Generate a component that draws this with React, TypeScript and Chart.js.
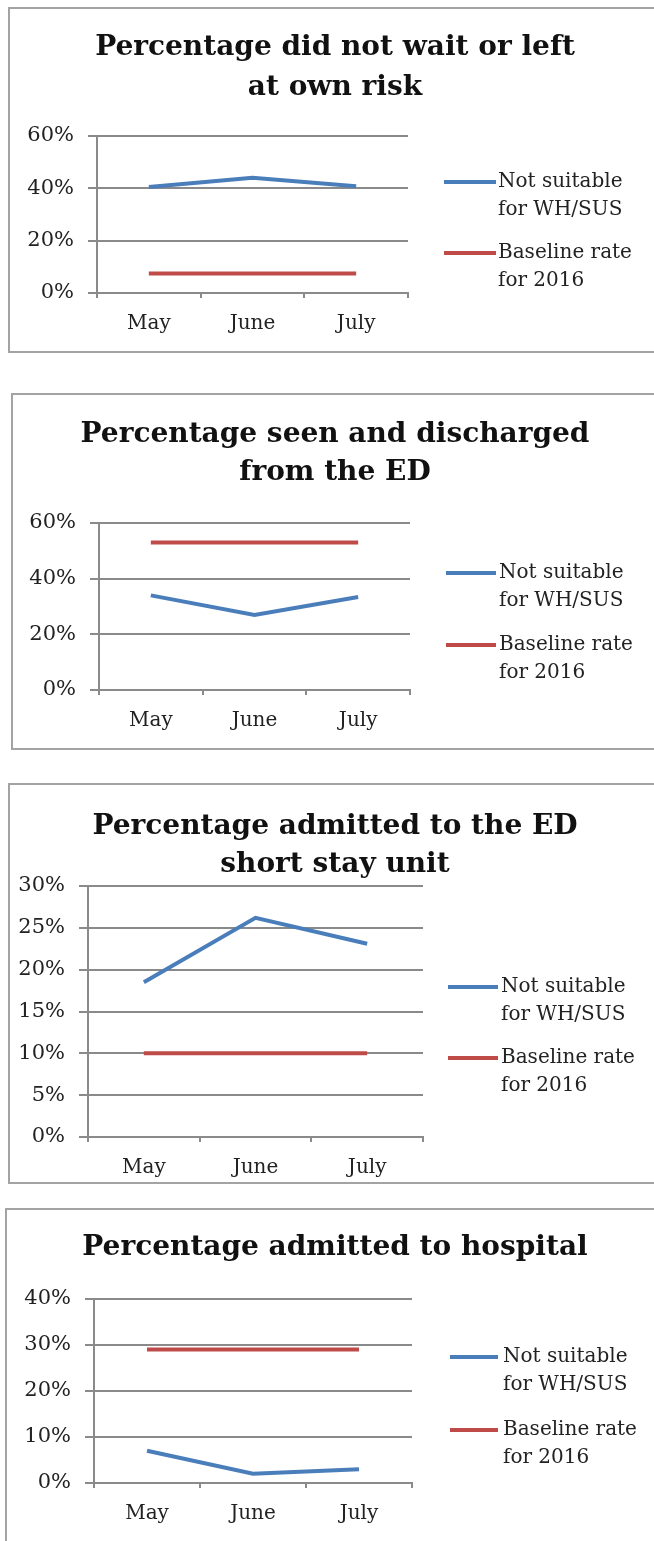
import React, { useEffect, useRef } from "react";
import { Chart, registerables } from "chart.js";

Chart.register(...registerables);

// ---------- data ----------
const months = ["May", "June", "July"];
const seriesNotSuitable = ["Not suitable", "for WH/SUS"];
const seriesBaseline = ["Baseline rate", "for 2016"];

const titleDidNotWait = ["Percentage did not wait or left", "at own risk"];
const notSuitableDidNotWait = [40.5, 44, 40.8];
const baselineDidNotWait = [7.5, 7.5, 7.5];
const yTicksDidNotWait = [0, 20, 40, 60];

const titleDischarged = ["Percentage seen and discharged", "from the ED"];
const notSuitableDischarged = [34, 27, 33.4];
const baselineDischarged = [53, 53, 53];
const yTicksDischarged = [0, 20, 40, 60];

const titleShortStay = ["Percentage admitted to the ED", "short stay unit"];
const notSuitableShortStay = [18.5, 26.2, 23.1];
const baselineShortStay = [10, 10, 10];
const yTicksShortStay = [0, 5, 10, 15, 20, 25, 30];

const titleHospital = ["Percentage admitted to hospital"];
const notSuitableHospital = [7, 2, 3];
const baselineHospital = [29, 29, 29];
const yTicksHospital = [0, 10, 20, 30, 40];

// ---------- styles ----------
const BLUE = "#4a7ebb";
const RED = "#be4b48";
const GRID = "#8a8a8a";
const TEXT = "#222";
const SERIF = "'DejaVu Serif', 'Liberation Serif', serif";
const CANVAS_W = 654;

type Layout = {
  top: number;
  height: number;
  borderLeft: number;
  borderHeight: number;
  chartLeft: number;
  chartRight: number;
  titlePadTop: number;
  titlePadBottom: number;
  titleLH: number;
  xAxisH: number;
  legendX: [number, number, number];
  legendY: [number, number];
};

const layouts: Layout[] = [
  { top: 7, height: 346, borderLeft: 8, borderHeight: 346, chartLeft: 97, chartRight: 408, titlePadTop: 21, titlePadBottom: 28, titleLH: 40, xAxisH: 60, legendX: [444, 496, 498], legendY: [175, 246] },
  { top: 393, height: 357, borderLeft: 11, borderHeight: 357, chartLeft: 99, chartRight: 410, titlePadTop: 23, titlePadBottom: 31, titleLH: 38, xAxisH: 60, legendX: [446, 496, 499], legendY: [180, 252] },
  { top: 783, height: 401, borderLeft: 8, borderHeight: 401, chartLeft: 88, chartRight: 423, titlePadTop: 25, titlePadBottom: 2, titleLH: 38, xAxisH: 47, legendX: [448, 498, 501], legendY: [204, 275] },
  { top: 1208, height: 333, borderLeft: 5, borderHeight: 400, chartLeft: 94, chartRight: 412, titlePadTop: 20, titlePadBottom: 31, titleLH: 40, xAxisH: 58, legendX: [450, 498, 503], legendY: [149, 222] },
];

type PanelProps = {
  layout: Layout;
  title: string[];
  notSuitable: number[];
  baseline: number[];
  yTicks: number[];
};

function Panel({ layout, title, notSuitable, baseline, yTicks }: PanelProps) {
  const ref = useRef<HTMLCanvasElement>(null);

  useEffect(() => {
    const canvas = ref.current;
    if (!canvas) return;
    const legendNames = [seriesNotSuitable, seriesBaseline];
    const legendColors = [BLUE, RED];

    const panelPlugin = {
      id: "panelDecor",
      afterLayout(chart: any) {
        const tb = chart.titleBlock;
        if (tb) {
          tb.left = 0;
          tb.right = 670;
          tb.width = 670;
        }
      },
      afterDraw(chart: any) {
        const ctx = chart.ctx;
        ctx.save();
        legendNames.forEach((lines, i) => {
          const y = layout.legendY[i];
          ctx.strokeStyle = legendColors[i];
          ctx.lineWidth = 4;
          ctx.lineCap = "butt";
          ctx.beginPath();
          ctx.moveTo(layout.legendX[0], y);
          ctx.lineTo(layout.legendX[1], y);
          ctx.stroke();
          ctx.fillStyle = TEXT;
          ctx.font = `20px ${SERIF}`;
          ctx.textAlign = "left";
          ctx.textBaseline = "middle";
          lines.forEach((t, j) => ctx.fillText(t, layout.legendX[2], y + j * 28));
        });
        ctx.restore();
      },
    };

    const chart = new Chart(canvas, {
      type: "line",
      data: {
        labels: months,
        datasets: [
          {
            label: seriesNotSuitable.join(" "),
            data: notSuitable,
            borderColor: BLUE,
            backgroundColor: BLUE,
            borderWidth: 4,
            pointRadius: 0,
            tension: 0,
          },
          {
            label: seriesBaseline.join(" "),
            data: baseline,
            borderColor: RED,
            backgroundColor: RED,
            borderWidth: 4,
            pointRadius: 0,
            tension: 0,
          },
        ],
      },
      options: {
        responsive: false,
        maintainAspectRatio: false,
        animation: false,
        devicePixelRatio: 1,
        layout: { padding: { left: 0, top: 0, bottom: 0, right: CANVAS_W - layout.chartRight } },
        plugins: {
          legend: { display: false },
          tooltip: { enabled: false },
          title: {
            display: true,
            text: title,
            color: "#111",
            font: { family: SERIF, size: 28, weight: "bold", lineHeight: `${layout.titleLH}px` },
            padding: { top: layout.titlePadTop, bottom: layout.titlePadBottom },
          },
        },
        scales: {
          x: {
            type: "category",
            offset: true,
            grid: { display: true, drawOnChartArea: false, offset: true, tickLength: 5, color: GRID, lineWidth: 2 },
            border: { display: true, color: GRID, width: 2 },
            ticks: { color: TEXT, font: { family: SERIF, size: 20 }, padding: 14, maxRotation: 0 },
            afterFit: (s: any) => {
              s.height = layout.xAxisH;
            },
          },
          y: {
            min: yTicks[0],
            max: yTicks[yTicks.length - 1],
            afterBuildTicks: (s: any) => {
              s.ticks = yTicks.map((v) => ({ value: v }));
            },
            ticks: {
              color: TEXT,
              font: { family: SERIF, size: 21 },
              padding: 14,
              callback: (v: any) => `${v}%`,
            },
            grid: { color: GRID, lineWidth: 2, tickLength: 9 },
            border: { display: true, color: GRID, width: 2 },
            afterFit: (s: any) => {
              s.width = layout.chartLeft;
            },
          },
        },
      },
      plugins: [panelPlugin],
    } as any);
    return () => chart.destroy();
  }, [layout, title, notSuitable, baseline, yTicks]);

  return (
    <>
      <div
        style={{
          position: "absolute",
          left: layout.borderLeft,
          top: layout.top,
          width: 720,
          height: layout.borderHeight,
          border: "2px solid #a3a3a3",
          boxSizing: "border-box",
          background: "#fff",
        }}
      />
      <canvas
        ref={ref}
        width={CANVAS_W}
        height={layout.height}
        style={{ position: "absolute", left: 0, top: layout.top, width: CANVAS_W, height: layout.height, display: "block" }}
      />
    </>
  );
}

export default function App() {
  return (
    <div
      style={{
        position: "absolute",
        left: 0,
        top: 0,
        width: CANVAS_W,
        height: 1541,
        overflow: "hidden",
        background: "#fff",
      }}
    >
      <Panel layout={layouts[0]} title={titleDidNotWait} notSuitable={notSuitableDidNotWait} baseline={baselineDidNotWait} yTicks={yTicksDidNotWait} />
      <Panel layout={layouts[1]} title={titleDischarged} notSuitable={notSuitableDischarged} baseline={baselineDischarged} yTicks={yTicksDischarged} />
      <Panel layout={layouts[2]} title={titleShortStay} notSuitable={notSuitableShortStay} baseline={baselineShortStay} yTicks={yTicksShortStay} />
      <Panel layout={layouts[3]} title={titleHospital} notSuitable={notSuitableHospital} baseline={baselineHospital} yTicks={yTicksHospital} />
    </div>
  );
}
